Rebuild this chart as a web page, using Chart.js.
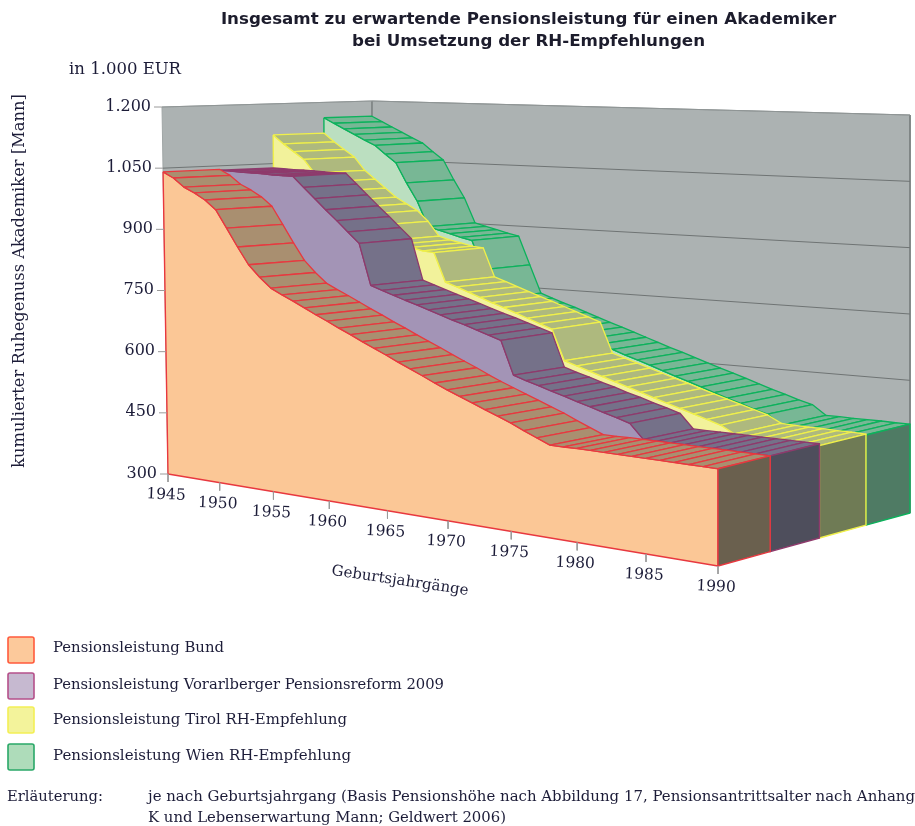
<!DOCTYPE html>
<html lang="de">
<head>
<meta charset="utf-8">
<title>Pensionsleistung</title>
<script src="https://cdn.jsdelivr.net/npm/chart.js@4"></script>
<style>html,body{margin:0;padding:0;background:#fff}canvas{display:block;filter:blur(0.55px)}</style>
</head>
<body>
<canvas id="c" width="915" height="826"></canvas>
<script>
const years = [1945,1946,1947,1948,1949,1950,1951,1952,1953,1954,1955,1956,1957,1958,1959,1960,1961,1962,1963,1964,1965,1966,1967,1968,1969,1970,1971,1972,1973,1974,1975,1976,1977,1978,1979,1980,1981,1982,1983,1984,1985,1986,1987,1988,1989,1990];
const bund = [1041,1028,1008,996,981,960,918,875,835,808,785,772,760,747,734,722,709,697,684,672,660,647,635,623,610,598,587,576,565,554,543,530,518,506,506,507,507,507,507,507,507,507,507,507,507,507];
const vorarlberg = [1039,1039,1038,1038,1038,1037,1037,1037,1012,987,962,938,913,888,790,781,772,763,755,746,737,728,720,711,702,693,616,607,599,590,582,573,565,556,548,539,507,507,507,507,507,507,507,507,507,507];
const tirol = [1122,1101,1083,1065,1033,1012,991,970,955,940,915,880,873,867,861,859,790,781,771,761,751,742,732,722,712,702,631,622,613,604,595,586,577,568,559,550,541,532,523,507,506,505,505,504,504,503];
const wien = [1161,1148,1135,1122,1109,1097,1076,1056,1007,963,902,895,888,881,875,806,738,728,718,709,699,689,679,670,660,650,640,630,621,611,601,591,582,572,562,552,543,533,525,503,503,502,502,502,501,501];
const valueTicks = [300,450,600,750,900,1050,1200];
const valueTickLabels = ['300','450','600','750','900','1.050','1.200'];
const yearTicks = [1945,1950,1955,1960,1965,1970,1975,1980,1985,1990];
const seriesNames = ['Pensionsleistung Bund','Pensionsleistung Vorarlberger Pensionsreform 2009','Pensionsleistung Tirol RH-Empfehlung','Pensionsleistung Wien RH-Empfehlung'];
const frontColors = ['#fbc796','#a394b6','#f2f29b','#bbdfc0'];
const topColors = ['#a98f70','#757189','#aeb97e','#78b795'];
const endColors = ['#6a604e','#4e4e5c','#6f7b55','#4f7b64'];
const edgeColors = ['#e8383f','#8e3a6c','#f0f04a','#0cb25c'];
const swatchFill = ['#fcc99b','#c6b9d0','#f3f39b','#aedcba'];
const swatchEdge = ['#ff5a3c','#b5508a','#f3ef55','#2aa868'];
const allSeries = [bund, vorarlberg, tirol, wien];

const frame = {
  fl:[[168,474],[162,107]], fr:[[718,566],[718,143]],
  br:[[910,513],[910,115]], bl:[[372,452],[372,101]]
};
const mix=(a,b,k)=>[a[0]+(b[0]-a[0])*k,a[1]+(b[1]-a[1])*k];
function project(year,depth,value){
  const t=(year-1945)/45, U=0.83*t/(1-0.17*t);
  const d=depth/4, V=d*1.12/(1+0.12*d);
  const h=(value-300)/900;
  const lvl=i=>mix(mix(frame.fl[i],frame.fr[i],U),mix(frame.bl[i],frame.br[i],U),V);
  const p=mix(lvl(0),lvl(1),h);
  return {x:p[0],y:p[1]};
}
const layers=[];
function poly(pts,fill,stroke,w){
  layers.push({data:pts,parsing:false,normalized:false,fill:fill?'shape':false,backgroundColor:fill||'transparent',
    borderColor:stroke||'transparent',borderWidth:stroke?(w||1.4):0,pointRadius:0,tension:0,clip:false,borderJoinStyle:'round'});
}
const closed=a=>a.concat([a[0]]);

// walls
const wall='#acb2b2', grid='#6f7474';
poly(closed([project(1945,0,300),project(1945,0,1200),project(1945,4,1200),project(1945,4,300)]),wall,'#a0a6a6',1);
poly(closed([project(1945,4,300),project(1945,4,1200),project(1990,4,1200),project(1990,4,300)]),wall,'#8f9595',1);
valueTicks.slice(1,6).forEach(v=>poly([project(1945,0,v),project(1945,4,v),project(1990,4,v)],null,grid,1));
poly([project(1945,4,300),project(1945,4,1200)],null,grid,1);
poly([project(1990,4,300),project(1990,4,1200)],null,grid,1);
poly([project(1945,0,1200),project(1945,4,1200),project(1990,4,1200)],null,'#8f9595',1);

// series, back to front
for(let s=3;s>=0;s--){
  const vals=allSeries[s];
  const front=years.map((y,i)=>project(y,s,vals[i]));
  const back=years.map((y,i)=>project(y,s+1,vals[i]));
  poly(closed(front.concat([project(1990,s,300),project(1945,s,300)])),frontColors[s],edgeColors[s],1.4);
  for(let i=0;i<years.length-1;i++){
    poly(closed([front[i],front[i+1],back[i+1],back[i]]),topColors[s],edgeColors[s],1.3);
  }
  poly(closed([front[45],back[45],project(1990,s+1,300),project(1990,s,300)]),endColors[s],edgeColors[s],1.4);
}
// tick marks
valueTicks.forEach(v=>{const p=project(1945,0,v);poly([{x:p.x-8,y:p.y},p],null,'#9a9a9a',1);});
yearTicks.forEach(y=>{const p=project(y,0,300);poly([p,{x:p.x,y:p.y+8}],null,'#9a9a9a',1);});

const labelsPlugin={id:'labels',afterDraw(chart){
  const c=chart.ctx,X=v=>chart.scales.x.getPixelForValue(v),Y=v=>chart.scales.y.getPixelForValue(v);
  const ink='#1c1c38', serif='"DejaVu Serif"';
  const text=(t,x,y,font,align,rot,maxW)=>{c.save();c.translate(x,y);if(rot)c.rotate(rot);c.font=font;c.fillStyle=ink;c.textAlign=align||'left';c.textBaseline='middle';
    if(maxW)c.fillText(t,0,0,maxW);else c.fillText(t,0,0);c.restore();};
  valueTicks.forEach((v,i)=>{const p=project(1945,0,v);text(valueTickLabels[i],X(p.x)-11,Y(p.y)-0.5,'16px '+serif,'right');});
  yearTicks.forEach(y=>{const p=project(y,0,300);text(String(y),X(p.x)-2,Y(p.y)+21,'15.5px '+serif,'center',0.04);});
  text('in 1.000 EUR',69,70,'16.5px '+serif,'left',0,112);
  text('kumulierter Ruhegenuss Akademiker [Mann]',20,281,'16.3px '+serif,'center',-Math.PI/2,374);
  text('Geburtsjahrgänge',400,581,'15px '+serif,'center',0.147,150);
  const rows=[650,686,720,757], textRows=[648,685,720,756], widths=[171,391,294,298];
  seriesNames.forEach((n,i)=>{
    c.save();c.beginPath();c.roundRect(8,rows[i]-13,26,26,2);c.fillStyle=swatchFill[i];c.fill();c.lineWidth=1.6;c.strokeStyle=swatchEdge[i];c.stroke();c.restore();
    text(n,53,textRows[i],'15px '+serif,'left',0,widths[i]);
  });
  const noteFont='15px '+serif;
  text('Erläuterung:',7,797,noteFont,'left',0,96);
  text('je nach Geburtsjahrgang (Basis Pensionshöhe nach Abbildung 17, Pensionsantrittsalter nach Anhang',148,797,noteFont,'left',0,767);
  text('K und Lebenserwartung Mann; Geldwert 2006)',148,818,noteFont,'left',0,358);
}};

const N=layers.length;
layers.forEach((d,i)=>{d.order=N-i;});
new Chart(document.getElementById('c'),{
  type:'line',
  data:{datasets:layers},
  plugins:[labelsPlugin],
  options:{
    responsive:false,animation:false,
    layout:{padding:{left:142,right:0,top:0,bottom:0}},
    events:[],
    plugins:{
      legend:{display:false},tooltip:{enabled:false},
      filler:{drawTime:'beforeDatasetDraw'},
      title:{display:true,fullSize:false,text:['Insgesamt zu erwartende Pensionsleistung für einen Akademiker','bei Umsetzung der RH-Empfehlungen'],
        font:{family:'"DejaVu Sans"',size:16.7,weight:'bold',lineHeight:22/16.7},color:'#1c1c2c',padding:{top:9,bottom:2}}
    },
    scales:{
      x:{type:'linear',display:false,min:142,max:915},
      y:{type:'linear',display:false,reverse:true,min:55,max:826}
    }
  }
});
</script>
</body>
</html>
